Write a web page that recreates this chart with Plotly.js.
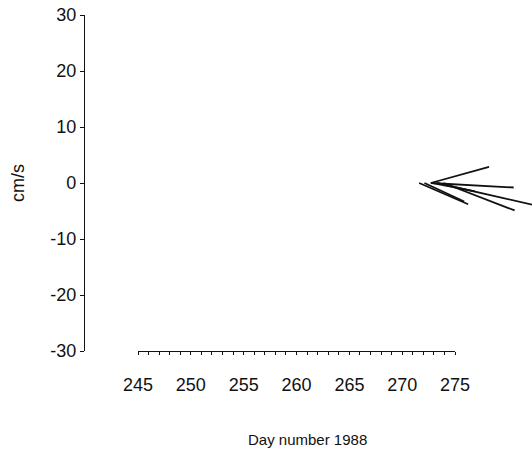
<!DOCTYPE html>
<html>
<head>
<meta charset="utf-8">
<script src="https://cdn.plot.ly/plotly-3.0.1.min.js"></script>
<style>html,body{margin:0;padding:0;background:#fff;}#chart{width:532px;height:456px;}</style>
</head>
<body>
<div id="chart"></div>
<script>
// Stick (current vector) data: day of year 1988, east (u) and north (v) components in cm/s
const days = [271.6, 272.1, 272.7, 272.7, 272.9, 273.3, 273.9];
const uVel = [8.75, 7.1, 10.4, 14.8, 7.5, 17.5, 12.7];
const vVel = [-3.8, -3.3, 2.9, -0.8, -1.5, -4.0, -4.9];

const dayTicks = [245, 250, 255, 260, 265, 270, 275];
const yTicks = [-30, -20, -10, 0, 10, 20, 30];

// geometry
const W = 532, H = 456;
const margin = {l: 85, r: 0, t: 15, b: 105};
const plotW = W - margin.l - margin.r;
const plotH = H - margin.t - margin.b;
const yRange = [-30, 30];
const pxPerDay = 10.57;
const dayStart = 245 - 53 / pxPerDay;
const xRange = [dayStart, dayStart + plotW / pxPerDay];
// cm/s -> days conversion so sticks are isotropic
const pxPerCm = plotH / (yRange[1] - yRange[0]);
const k = pxPerCm / pxPerDay;

const sx = [], sy = [];
for (let i = 0; i < days.length; i++) {
  sx.push(days[i], days[i] + uVel[i] * k, null);
  sy.push(0, vVel[i], null);
}

const span = xRange[1] - xRange[0];
const dom2 = [(dayTicks[0] - xRange[0]) / span, (dayTicks[dayTicks.length - 1] - xRange[0]) / span];

const font = {family: 'Liberation Sans, Arial, sans-serif', size: 18, color: '#111'};
const titleFont = {family: 'Liberation Sans, Arial, sans-serif', size: 15, color: '#111'};

const data = [
  {x: [dayTicks[0], dayTicks[dayTicks.length - 1]], y: [null, null], xaxis: 'x2', yaxis: 'y',
   mode: 'lines', showlegend: false, hoverinfo: 'skip'},
  {x: sx, y: sy, xaxis: 'x', yaxis: 'y', mode: 'lines', line: {color: '#111', width: 1.8},
   showlegend: false, hoverinfo: 'skip'}
];

const layout = {
  width: W, height: H, margin: margin,
  paper_bgcolor: '#fff', plot_bgcolor: 'rgba(0,0,0,0)',
  font: font, showlegend: false,
  xaxis: {visible: false, range: xRange, domain: [0, 1], fixedrange: true},
  xaxis2: {
    domain: dom2, range: [dayTicks[0], dayTicks[dayTicks.length - 1]], anchor: 'y',
    tickvals: dayTicks, ticktext: dayTicks.map(String), ticks: 'outside', ticklen: 3,
    tickcolor: '#111', tickwidth: 1,
    minor: {dtick: 1, ticks: 'outside', ticklen: 3, tickcolor: '#111', tickwidth: 1},
    showline: true, linecolor: '#111', linewidth: 1.2, showgrid: false, zeroline: false,
    ticklabelstandoff: 14, tickfont: font
  },
  yaxis: {
    range: yRange, tickvals: yTicks, ticktext: yTicks.map(String), ticks: 'outside', ticklen: 4,
    tickcolor: '#111', showline: true, linecolor: '#111', linewidth: 1.2,
    showgrid: false, zeroline: false, tickfont: font, ticklabelstandoff: 0
  },
  annotations: [
    {text: 'cm/s', xref: 'paper', yref: 'paper', x: (18 - margin.l) / plotW, y: 0.5,
     xanchor: 'center', yanchor: 'middle', textangle: -90, showarrow: false, font: font},
    {text: 'Day number 1988', xref: 'paper', yref: 'paper', x: (307 - margin.l) / plotW,
     y: -(439 - (margin.t + plotH)) / plotH, xanchor: 'center', yanchor: 'middle',
     showarrow: false, font: titleFont}
  ]
};

Plotly.newPlot('chart', data, layout, {displayModeBar: false, staticPlot: true});
</script>
</body>
</html>
